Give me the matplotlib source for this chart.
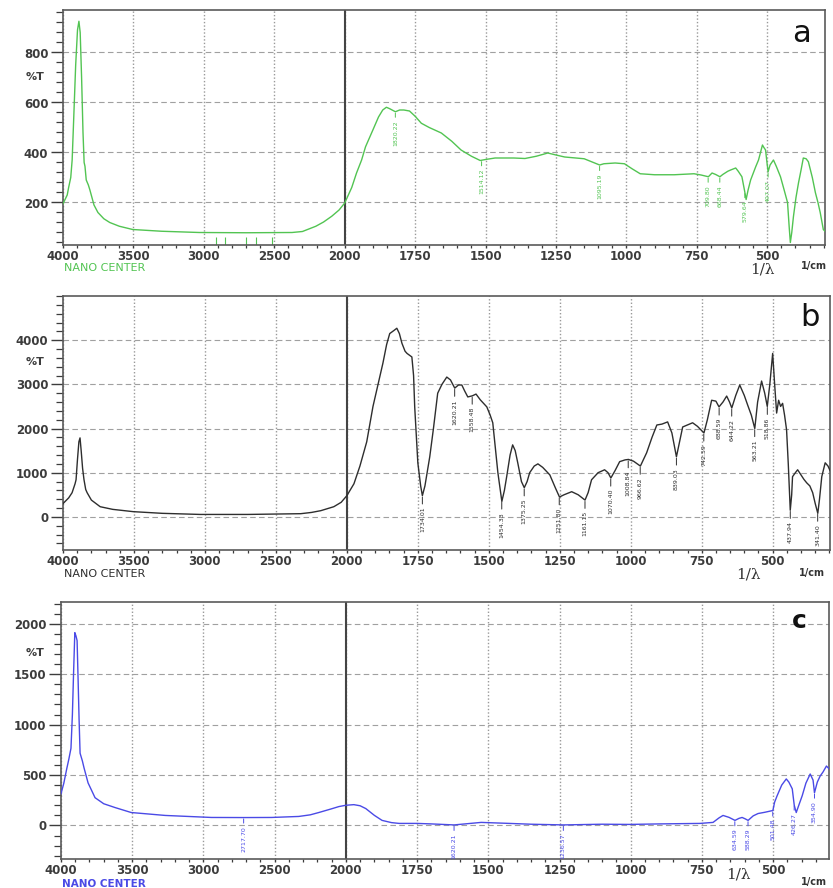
import numpy as np
import matplotlib
matplotlib.use('Agg')
import matplotlib.pyplot as plt
from matplotlib.ticker import FixedLocator, MultipleLocator

# ---- spectrum a (green) : wavenumber, %T
a_x = [4000, 3970, 3960, 3945, 3935, 3925, 3910, 3897, 3887, 3878, 3868, 3858, 3850, 3844,
       3835, 3820, 3809, 3780, 3752, 3710, 3668, 3600, 3505, 3300, 3032, 2700, 2374, 2300,
       2205, 2150, 2092, 2040, 2000, 1975, 1958, 1940, 1926, 1900, 1880, 1865, 1852, 1840,
       1820, 1805, 1790, 1770, 1750, 1728, 1700, 1657, 1620, 1587, 1550, 1519, 1500, 1466,
       1400, 1360, 1320, 1279, 1250, 1219, 1150, 1095, 1080, 1040, 1007, 980, 951, 900, 830,
       760, 735, 709, 696, 683, 668, 658, 640, 630, 612, 603, 590, 581, 575, 568, 559, 541,
       531, 524, 517, 512, 506, 501, 497, 490, 478, 468, 453, 440, 428, 422, 418, 413, 407,
       398, 389, 380, 372, 362, 354, 340, 329, 320, 312, 301, 295]
a_y = [195, 230, 260, 300, 370, 520, 750, 890, 925, 880, 700, 480, 360, 345,
       290, 270, 250, 190, 160, 135, 120, 105, 92, 85, 80, 79, 80, 84,
       105, 122, 145, 170, 198, 260, 318, 370, 423, 490, 542, 570, 581, 575,
       563, 570, 570, 566, 545, 517, 500, 478, 445, 410, 385, 368, 372, 378,
       378, 376, 385, 398, 390, 382, 375, 350, 355, 358, 355, 335, 315, 311, 311,
       315, 310, 303, 318, 312, 303, 312, 325, 330, 338, 325, 303, 250, 212, 250, 290, 343,
       370, 400, 430, 420, 410, 360, 323, 350, 370, 345, 303, 250, 200, 100, 40, 80, 144,
       220, 279, 330, 378, 375, 363, 300, 239, 200, 160, 92, 85]
a_peaks = [1820.22, 1514.12, 1095.19, 709.80, 668.44, 579.64, 497.07]
a_cut = [2912, 2850, 2700, 2630, 2516]

# ---- spectrum b (black)
b_x = [4000, 3960, 3936, 3915, 3908, 3898, 3888, 3880, 3872, 3862, 3852, 3840, 3830, 3800,
       3738, 3650, 3505, 3300, 3032, 2700, 2325, 2250, 2184, 2092, 2040, 2000, 1975, 1954,
       1930, 1908, 1890, 1873, 1860, 1849, 1834, 1824, 1815, 1806, 1795, 1788, 1771, 1765,
       1761, 1750, 1740, 1734, 1725, 1708, 1695, 1680, 1665, 1648, 1635, 1620, 1607, 1595,
       1585, 1574, 1558, 1545, 1530, 1507, 1495, 1486, 1468, 1454, 1445, 1437, 1425, 1416,
       1407, 1398, 1385, 1375, 1365, 1356, 1340, 1327, 1310, 1285, 1265, 1251, 1235, 1208,
       1185, 1161, 1150, 1138, 1115, 1092, 1080, 1070, 1055, 1039, 1020, 1008, 990, 966, 955,
       944, 925, 908, 890, 870, 855, 839, 828, 817, 800, 782, 765, 742, 730, 715, 700, 689,
       675, 662, 652, 644, 630, 616, 600, 588, 575, 563, 553, 539, 528, 519, 510, 500, 493,
       486, 479, 472, 465, 458, 451, 445, 438, 433, 430, 420, 412, 400, 390, 380, 369, 359,
       350, 341, 335, 327, 315, 305, 298]
b_y = [300, 430, 547, 750, 840, 1300, 1700, 1788, 1500, 1100, 840, 620, 547, 380,
       230, 170, 118, 80, 55, 55, 72, 100, 140, 230, 330, 480, 750, 1150,
       1700, 2500, 3000, 3480, 3900, 4150, 4220, 4270, 4150, 3930, 3750, 3700, 3620, 3200,
       2490, 1224, 700, 480, 700, 1360, 2000, 2800, 3000, 3165, 3100, 2915, 2985, 2985,
       2850, 2715, 2740, 2780, 2650, 2490, 2300, 2130, 1000, 350, 600, 910, 1400, 1630,
       1500, 1224, 800, 660, 800, 1000, 1150, 1200, 1120, 950, 650, 450, 500, 570,
       500, 380, 550, 840, 1000, 1066, 1000, 880, 1050, 1250, 1290, 1300, 1260, 1150, 1300,
       1450, 1800, 2080, 2100, 2150, 1900, 1360, 1700, 2035, 2080, 2130, 2050, 1900, 2200, 2640, 2620, 2490,
       2600, 2735, 2600, 2465, 2750, 2985, 2750, 2530, 2300, 2000, 2600, 3075, 2800, 2500, 3000, 3700, 3000,
       2350, 2640, 2500, 2570, 2300, 1970, 1200, 150, 500, 910, 1000, 1066, 950, 850, 770, 700, 547,
       300, 80, 400, 910, 1224, 1150, 1050]
b_peaks = [1734.01, 1620.21, 1558.48, 1454.33, 1375.25, 1251.80, 1161.15, 1070.40, 1008.84,
           966.62, 839.03, 742.59, 688.59, 644.22, 563.21, 518.86, 437.94, 341.40]

# ---- spectrum c (blue)
c_x = [4000, 3980, 3960, 3945, 3930, 3920, 3912, 3903, 3895, 3887, 3880, 3873, 3866, 3850,
       3838, 3810, 3761, 3700, 3620, 3507, 3268, 2944, 2717, 2521, 2331, 2250, 2190, 2100,
       2049, 2000, 1972, 1950, 1930, 1900, 1873, 1840, 1813, 1750, 1700, 1620, 1525, 1426,
       1350, 1236, 1100, 1004, 900, 757, 711, 690, 676, 655, 634, 620, 609, 598, 588, 570,
       553, 530, 501, 495, 486, 470, 454, 445, 433, 426, 419, 410, 398, 385, 370, 360, 355,
       345, 335, 325, 313, 303]
c_y = [314, 420, 560, 657, 765, 1100, 1500, 1912, 1880, 1833, 1450, 1049, 716, 640,
       569, 422, 275, 215, 177, 128, 99, 79, 78, 79, 89, 105, 128, 165,
       187, 200, 206, 195, 167, 100, 50, 28, 20, 20, 15, 5, 30, 20,
       12, 5, 12, 10, 15, 20, 30, 75, 99, 80, 50, 70, 79, 65, 50, 95,
       118, 130, 148, 230, 295, 400, 461, 430, 363, 200, 128, 200, 295, 420, 510, 450, 324,
       430, 490, 530, 589, 560]
c_peaks = [2717.70, 1620.21, 1236.57, 634.59, 588.29, 501.48, 426.27, 354.90]


def fwd(x):
    x = np.asarray(x, dtype=float)
    return np.where(x >= 2000, x / 2 + 1000, x)


def inv(u):
    u = np.asarray(u, dtype=float)
    return np.where(u >= 2000, (u - 1000) * 2, u)


W, H = 833, 888
fig = plt.figure(figsize=(W / 100, H / 100), dpi=100)

TICK_COL = '#3c3c3c'


def px(x, y):
    return x / W, 1 - y / H


def panel(box, xs, ys, peaks, col, xend, ylim, yticks, yminor, lab_off):
    l, t, r, b = box
    ax = fig.add_axes([l / W, 1 - b / H, (r - l) / W, (b - t) / H])
    ax.set_xscale('function', functions=(fwd, inv))
    ax.plot(xs, ys, color=col, lw=1.0, zorder=3)
    ax.set_xlim(4000, xend)
    ax.set_ylim(*ylim)

    major = [4000, 3500, 3000, 2500, 2000, 1750, 1500, 1250, 1000, 750, 500]
    minor = [v for v in range(2100, 4000, 100) if v % 500] + \
            [v for v in range(300, 2000, 50) if v % 250 and v > xend]
    ax.xaxis.set_major_locator(FixedLocator(major))
    ax.xaxis.set_minor_locator(FixedLocator(minor))
    ax.set_xticklabels([str(m) for m in major])
    ax.set_yticks(yticks)
    ax.yaxis.set_minor_locator(MultipleLocator(yminor))

    ax.tick_params(axis='both', which='major', labelsize=8.5, colors=TICK_COL)
    for lb in ax.get_xticklabels() + ax.get_yticklabels():
        lb.set_fontweight('bold')
    ax.tick_params(axis='y', which='major', length=9, width=1.0, pad=1.5)
    ax.tick_params(axis='y', which='minor', length=5, width=0.9, color=TICK_COL)
    ax.tick_params(axis='x', which='major', length=2.5, width=1.0, pad=1.2)
    ax.tick_params(axis='x', which='minor', length=2.5, width=0.9, color=TICK_COL)

    ax.grid(axis='y', which='major', ls=(0, (5, 3)), color='#a0a0a0', lw=0.8)
    ax.grid(axis='x', which='major', ls=(0, (1, 1.5)), color='#999999', lw=1.0)
    ax.axvline(2000, color='#444444', lw=1.5, zorder=2)
    for s in ax.spines.values():
        s.set_color('#5a5a5a')
        s.set_linewidth(1.2)

    ix = np.array(xs[::-1], dtype=float)
    iy = np.array(ys[::-1], dtype=float)
    for p in peaks:
        yv = np.interp(p, ix, iy)
        ax.annotate(f'{p:.2f}', xy=(p, yv), xytext=(0, -lab_off),
                    textcoords='offset points', rotation=90, ha='center', va='top',
                    fontsize=4.5, color=col,
                    arrowprops=dict(arrowstyle='-', color=col, lw=0.7,
                                    shrinkA=0, shrinkB=1))
    return ax


# panel a
ax_a = panel((63, 10, 825, 245), a_x, a_y, a_peaks, '#52c452', 295, (30, 970),
             [200, 400, 600, 800], 40, 6)
ax_a.vlines(a_cut, 30, 62, color='#52c452', lw=0.8)
# panel b
ax_b = panel((63, 296, 830, 550), b_x, b_y, b_peaks, '#2e2e2e', 298, (-750, 5000),
             [0, 1000, 2000, 3000, 4000], 200, 8)
# panel c
ax_c = panel((61, 602, 829, 859), c_x, c_y, c_peaks, '#4a4ae6', 304, (-333, 2216),
             [0, 500, 1000, 1500, 2000], 100, 6)

# decorations
fig.text(*px(64, 268), 'NANO CENTER', color='#52c452', fontsize=8, va='center')
fig.text(*px(64, 574), 'NANO CENTER', color='#2e2e2e', fontsize=8, va='center')
fig.text(*px(62, 887), 'NANO CENTER', color='#4a4ae6', fontsize=7.5, va='baseline',
         fontweight='bold')

for (x, y) in [(762, 269), (748, 574), (738, 874)]:
    fig.text(*px(x, y), '1/λ', family='DejaVu Serif', fontsize=11, color='#333333',
             ha='center', va='center')
for (x, y) in [(814, 266), (812, 573), (814, 882)]:
    fig.text(*px(x, y), '1/cm', fontsize=7, fontweight='bold', color='#333333',
             ha='center', va='center')
for y in [77, 362, 653]:
    fig.text(*px(44, y), '%T', fontsize=8, fontweight='bold', color=TICK_COL,
             ha='right', va='center')

fig.text(*px(801, 33), 'a', fontsize=22, color='#111111', ha='center', va='center')
fig.text(*px(810, 318), 'b', fontsize=22, color='#111111', ha='center', va='center')
fig.text(*px(799, 621), 'c', fontsize=18, fontweight='bold', color='#111111',
         ha='center', va='center')

fig.savefig('out.png', dpi=100)
